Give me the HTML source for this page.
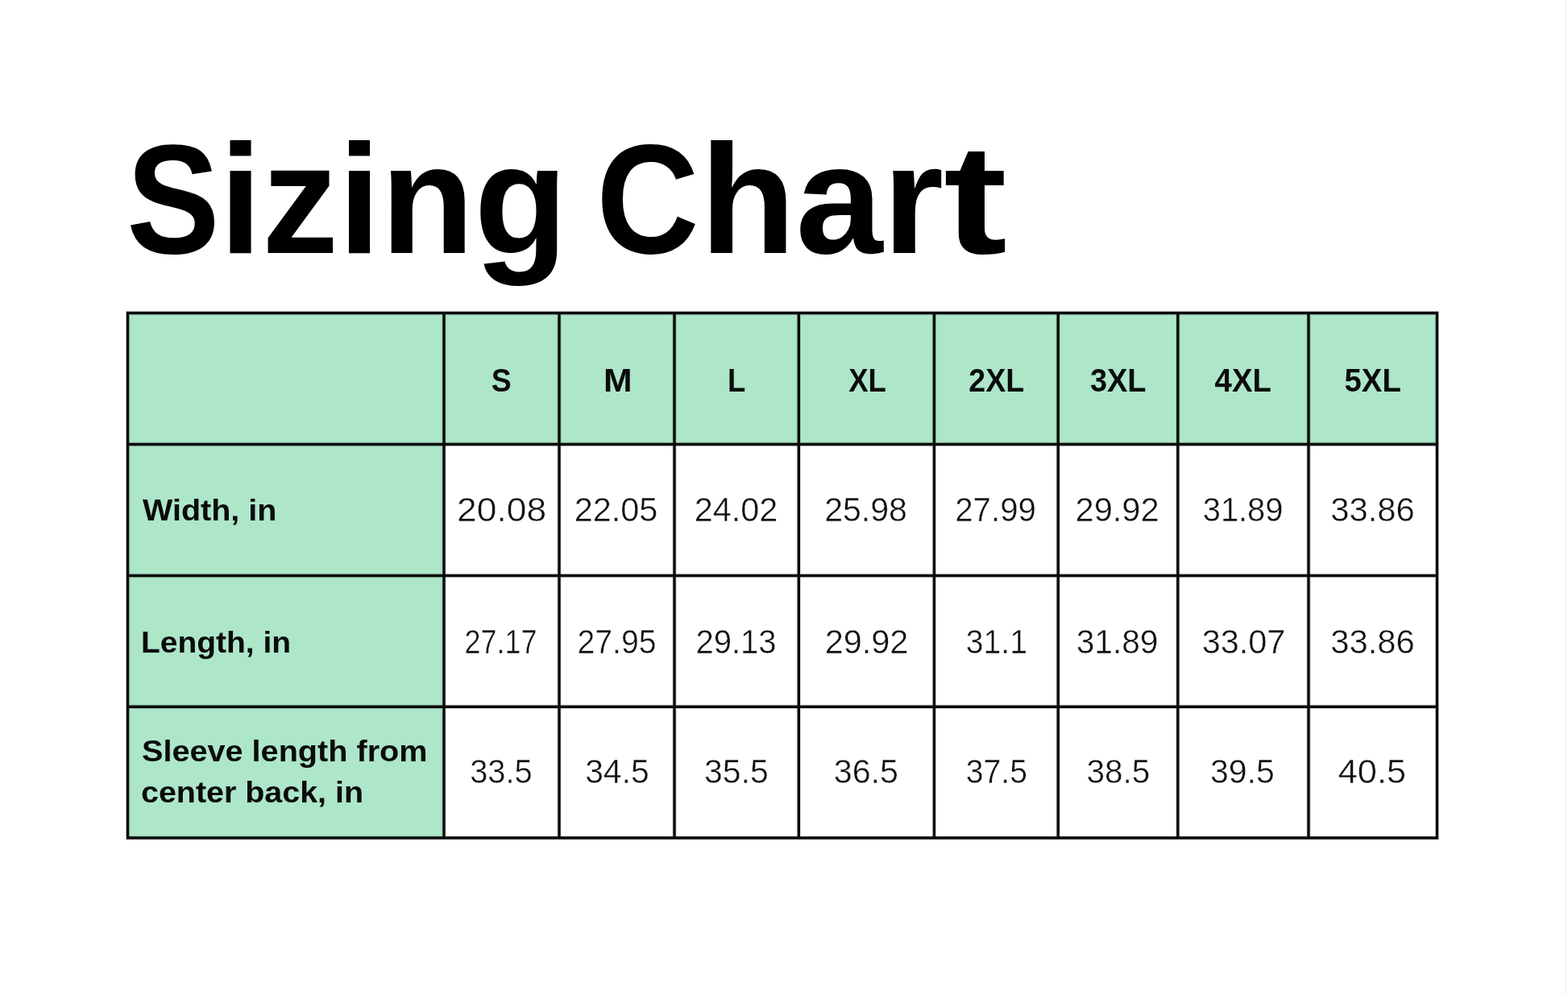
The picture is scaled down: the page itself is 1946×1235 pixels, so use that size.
<!DOCTYPE html>
<html lang="en">
<head>
<meta charset="utf-8">
<title>Sizing Chart</title>
<style>
html,body{margin:0;padding:0;background:#fff;}
body{width:1946px;height:1235px;position:relative;overflow:hidden;font-family:"Liberation Sans",sans-serif;color:#000;}
.g{position:absolute;background:#ade6c9;}
.ln{position:absolute;background:#0a0a0a;}
.c{position:absolute;width:300px;height:60px;display:flex;align-items:center;justify-content:center;white-space:nowrap;line-height:1;}
.c span{display:inline-block;}
.h{font-weight:bold;font-size:40px;color:#0b0b0b;}
.n{font-size:42px;color:#101010;-webkit-text-stroke:0.45px #fff;}
.b{position:absolute;white-space:nowrap;line-height:1;font-weight:bold;transform-origin:0 100%;display:block;}
.k{display:inline-block;transform-origin:0 50%;}
.lb{font-size:37px;color:#0b0b0b;}
.tt{font-size:193px;color:#000;}
</style>
</head>
<body>
<h1 style="margin:0;font-size:inherit;font-weight:inherit">
<span class="b tt" style="left:157.10px;top:151.20px;transform:scaleX(0.9831)"><span class="k" style="transform:scaleX(0.9150);margin-right:-11.50px">S</span>izing</span>
<span class="b tt" style="left:739.90px;top:151.20px;transform:scaleX(1.0069)"><span class="k" style="transform:scaleX(0.9100);margin-right:-11.50px">C</span>har<span class="k" style="transform:scaleX(1.2200)">t</span></span>
</h1>
<div class="g" style="left:158.5px;top:388.5px;width:1625px;height:163px"></div>
<div class="g" style="left:158.5px;top:388.5px;width:392.5px;height:651.5px"></div>
<div class="c h" style="left:472.40px;top:441.60px"><span style="transform:scaleX(0.9357)">S</span></div>
<div class="c h" style="left:616.50px;top:441.60px"><span style="transform:scaleX(1.0668)">M</span></div>
<div class="c h" style="left:764.25px;top:441.60px"><span style="transform:scaleX(0.9113)">L</span></div>
<div class="c h" style="left:926.25px;top:441.60px"><span style="transform:scaleX(0.9112)">XL</span></div>
<div class="c h" style="left:1086.45px;top:441.60px"><span style="transform:scaleX(0.9374)">2XL</span></div>
<div class="c h" style="left:1237.55px;top:441.60px"><span style="transform:scaleX(0.9487)">3XL</span></div>
<div class="c h" style="left:1392.70px;top:441.60px"><span style="transform:scaleX(0.9560)">4XL</span></div>
<div class="c h" style="left:1553.60px;top:441.60px"><span style="transform:scaleX(0.9586)">5XL</span></div>
<div class="b lb" style="left:177.10px;top:614.50px;transform:scaleX(1.0670)">Width, in</div>
<div class="b lb" style="left:174.90px;top:778.70px;transform:scaleX(1.0532)">Length, in</div>
<div class="b lb" style="left:175.60px;top:913.70px;transform:scaleX(1.0709)">Sleeve length from</div>
<div class="b lb" style="left:174.60px;top:964.90px;transform:scaleX(1.0651)">center back, in</div>
<div class="c n" style="left:472.45px;top:602.90px"><span style="transform:scaleX(1.0560)">20.08</span></div>
<div class="c n" style="left:614.60px;top:602.90px"><span style="transform:scaleX(0.9861)">22.05</span></div>
<div class="c n" style="left:763.75px;top:602.90px"><span style="transform:scaleX(0.9843)">24.02</span></div>
<div class="c n" style="left:924.75px;top:602.90px"><span style="transform:scaleX(0.9773)">25.98</span></div>
<div class="c n" style="left:1085.40px;top:602.90px"><span style="transform:scaleX(0.9571)">27.99</span></div>
<div class="c n" style="left:1237.05px;top:602.90px"><span style="transform:scaleX(0.9898)">29.92</span></div>
<div class="c n" style="left:1393.00px;top:602.90px"><span style="transform:scaleX(0.9478)">31.89</span></div>
<div class="c n" style="left:1553.60px;top:602.90px"><span style="transform:scaleX(0.9959)">33.86</span></div>
<div class="c n" style="left:471.80px;top:766.50px"><span style="transform:scaleX(0.8559)">27.17</span></div>
<div class="c n" style="left:615.15px;top:766.50px"><span style="transform:scaleX(0.9326)">27.95</span></div>
<div class="c n" style="left:763.70px;top:766.50px"><span style="transform:scaleX(0.9529)">29.13</span></div>
<div class="c n" style="left:925.25px;top:766.50px"><span style="transform:scaleX(0.9871)">29.92</span></div>
<div class="c n" style="left:1086.40px;top:766.50px"><span style="transform:scaleX(0.9302)">31.1</span></div>
<div class="c n" style="left:1236.90px;top:766.50px"><span style="transform:scaleX(0.9682)">31.89</span></div>
<div class="c n" style="left:1393.20px;top:766.50px"><span style="transform:scaleX(0.9868)">33.07</span></div>
<div class="c n" style="left:1553.60px;top:766.50px"><span style="transform:scaleX(0.9959)">33.86</span></div>
<div class="c n" style="left:472.30px;top:928.20px"><span style="transform:scaleX(0.9479)">33.5</span></div>
<div class="c n" style="left:615.60px;top:928.20px"><span style="transform:scaleX(0.9723)">34.5</span></div>
<div class="c n" style="left:763.95px;top:928.20px"><span style="transform:scaleX(0.9746)">35.5</span></div>
<div class="c n" style="left:925.10px;top:928.20px"><span style="transform:scaleX(0.9826)">36.5</span></div>
<div class="c n" style="left:1086.40px;top:928.20px"><span style="transform:scaleX(0.9303)">37.5</span></div>
<div class="c n" style="left:1237.75px;top:928.20px"><span style="transform:scaleX(0.9639)">38.5</span></div>
<div class="c n" style="left:1391.85px;top:928.20px"><span style="transform:scaleX(0.9755)">39.5</span></div>
<div class="c n" style="left:1553.25px;top:928.20px"><span style="transform:scaleX(1.0322)">40.5</span></div>
<div style="position:absolute;left:1942px;top:0;width:2px;height:1235px;background:#f4f4f4"></div>
<svg class="grid" width="1946" height="1235" viewBox="0 0 1946 1235" style="position:absolute;left:0;top:0">
<g stroke="#0a0a0a" stroke-width="5.4" stroke-opacity="0.13" stroke-linecap="square" fill="none">
<path d="M158.5 388.5V1040M551 388.5V1040M694 388.5V1040M837 388.5V1040M991.3 388.5V1040M1159.4 388.5V1040M1313.2 388.5V1040M1461.8 388.5V1040M1624 388.5V1040M1783.5 388.5V1040M158.5 388.5H1783.5M158.5 551.5H1783.5M158.5 714.5H1783.5M158.5 877.3H1783.5M158.5 1040H1783.5"/>
</g>
<g stroke="#0a0a0a" stroke-width="3.4" stroke-opacity="1" stroke-linecap="square" fill="none">
<path d="M158.5 388.5V1040M551 388.5V1040M694 388.5V1040M837 388.5V1040M991.3 388.5V1040M1159.4 388.5V1040M1313.2 388.5V1040M1461.8 388.5V1040M1624 388.5V1040M1783.5 388.5V1040M158.5 388.5H1783.5M158.5 551.5H1783.5M158.5 714.5H1783.5M158.5 877.3H1783.5M158.5 1040H1783.5"/>
</g>
</svg>
</body>
</html>
